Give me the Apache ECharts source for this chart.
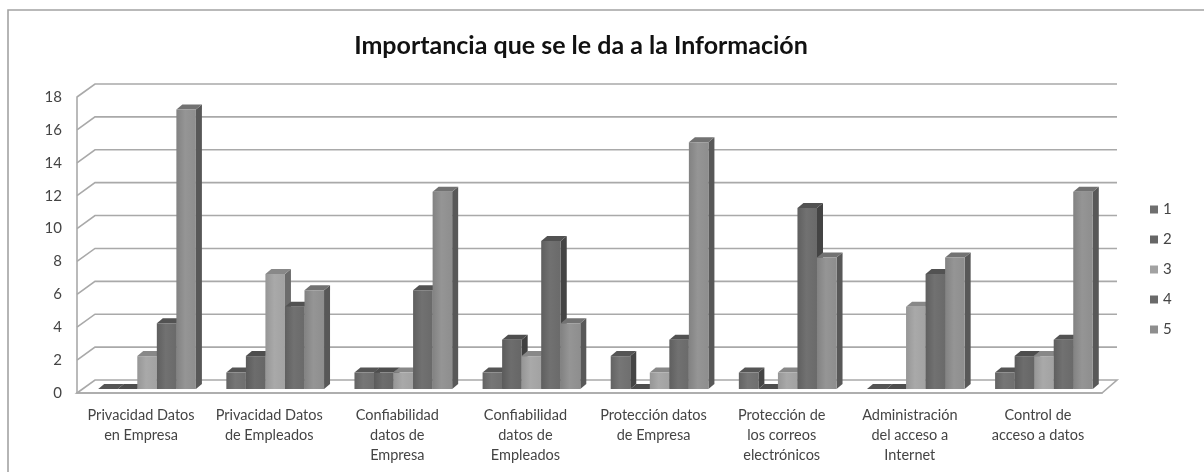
<!DOCTYPE html>
<html>
<head>
<meta charset="utf-8">
<title>Importancia que se le da a la Información</title>
<script src="https://cdn.jsdelivr.net/npm/echarts@6/dist/echarts.min.js"></script>
<style>
    html, body { margin: 0; padding: 0; background: #fff; }
    #chart { width: 1204px; height: 472px; }
</style>
</head>
<body>
<div id="chart"></div>
<script>
const categories = [
    'Privacidad Datos\nen Empresa',
    'Privacidad Datos\nde Empleados',
    'Confiabilidad\ndatos de\nEmpresa',
    'Confiabilidad\ndatos de\nEmpleados',
    'Protección datos\nde Empresa',
    'Protección de\nlos correos\nelectrónicos',
    'Administración\ndel acceso a\nInternet',
    'Control de\nacceso a datos'
];
const seriesNames = ['1', '2', '3', '4', '5'];
const values1 = [0, 1, 1, 1, 2, 1, 0, 1];
const values2 = [0, 2, 1, 3, 0, 0, 0, 2];
const values3 = [2, 7, 1, 2, 1, 1, 5, 2];
const values4 = [4, 5, 6, 9, 3, 11, 7, 3];
const values5 = [17, 6, 12, 4, 15, 8, 8, 12];
const allValues = [values1, values2, values3, values4, values5];
const gridTicks = [0, 2, 4, 6, 8, 10, 12, 14, 16, 18];

const seriesColors = ['#6f6f6f', '#666666', '#a2a2a2', '#6a6a6a', '#8e8e8e'];
const sideColors = ['#454545', '#404040', '#6c6c6c', '#444444', '#585858'];
const topColors = ['#555555', '#4e4e4e', '#888888', '#525252', '#727272'];
const edgeColors = ['#636363', '#5b5b5b', '#969696', '#5f5f5f', '#828282'];
const midColors = ['#767676', '#6d6d6d', '#a9a9a9', '#717171', '#959595'];
const lineColor = '#a9a9a9';
const textColor = '#444444';
const fontName = 'Lato, "Open Sans", sans-serif';

// how far the back wall sits from the front of the floor
const wallDx = 18;
const wallDy = 13;
// the bars stand a little behind the front edge
const barShiftX = 6;
const barShiftY = 4;
const barDepthX = 6;
const barDepthY = 5;
const barShare = 0.1525;

// back wall lines, left wall diagonals and the floor
function renderWall (params, api) {
    const v = api.value(1);
    const y = api.coord([0, v])[1];
    const left = params.coordSys.x;
    const right = left + params.coordSys.width;
    const style = { stroke: lineColor, lineWidth: 1.6, fill: null };
    if (v === 0) {
        return {
            type: 'polygon',
            shape: { points: [[left, y], [left + wallDx, y - wallDy], [right + wallDx - 3, y - wallDy], [right, y]] },
            style: { stroke: lineColor, lineWidth: 1.6, fill: '#ffffff' }
        };
    }
    return {
        type: 'polyline',
        shape: { points: [[left, y], [left + wallDx, y - wallDy], [right + wallDx - 3, y - wallDy]] },
        style: style
    };
}

function makeBarRenderer (index) {
    return function (params, api) {
        const cat = api.value(0);
        const top = api.coord([cat, api.value(1)]);
        const base = api.coord([cat, 0]);
        const w = api.size([1, 0])[0] * barShare;
        const x0 = base[0] + barShiftX + (index - 2.5) * w;
        const x1 = x0 + w;
        const y0 = top[1] - barShiftY;
        const y1 = base[1] - barShiftY;
        const front = new echarts.graphic.LinearGradient(0, 0, 1, 0, [
            { offset: 0, color: edgeColors[index] },
            { offset: 0.45, color: midColors[index] },
            { offset: 1, color: seriesColors[index] }
        ]);
        return {
            type: 'group',
            children: [
                {
                    type: 'polygon',
                    shape: { points: [[x1, y0], [x1 + barDepthX, y0 - barDepthY], [x1 + barDepthX, y1 - barDepthY], [x1, y1]] },
                    style: { fill: sideColors[index] }
                },
                {
                    type: 'polygon',
                    shape: { points: [[x0, y0], [x0 + barDepthX, y0 - barDepthY], [x1 + barDepthX, y0 - barDepthY], [x1, y0]] },
                    style: { fill: topColors[index] }
                },
                {
                    type: 'rect',
                    shape: { x: x0, y: y0, width: w, height: y1 - y0 },
                    style: { fill: front }
                }
            ]
        };
    };
}

const barSeries = allValues.map(function (vals, i) {
    return {
        name: seriesNames[i],
        type: 'custom',
        renderItem: makeBarRenderer(i),
        encode: { x: 0, y: 1 },
        itemStyle: { color: seriesColors[i] },
        z: 3 + i,
        data: vals.map(function (v, c) { return [c, v]; })
    };
});

const chart = echarts.init(document.getElementById('chart'));
chart.setOption({
    animation: false,
    backgroundColor: '#ffffff',
    title: {
        text: 'Importancia que se le da a la Información',
        left: 576,
        top: 28,
        textAlign: 'center',
        textStyle: { fontFamily: fontName, fontSize: 25, fontWeight: 'bold', color: '#111111' }
    },
    grid: { left: 77, right: 102, top: 97, bottom: 79 },
    xAxis: {
        type: 'category',
        data: categories,
        axisTick: { show: false },
        axisLine: { lineStyle: { color: lineColor, width: 1.6 } },
        axisLabel: { interval: 0, margin: 12, lineHeight: 20, fontSize: 14.5, fontFamily: fontName, color: textColor },
        z: 2
    },
    yAxis: {
        type: 'value',
        min: 0,
        max: 18,
        interval: 2,
        splitLine: { show: false },
        axisTick: { show: false },
        axisLine: { show: true, lineStyle: { color: lineColor, width: 1.6 } },
        axisLabel: { margin: 15, fontSize: 15, fontFamily: fontName, color: textColor },
        z: 2
    },
    legend: {
        data: seriesNames,
        orient: 'vertical',
        left: 1145,
        top: 197,
        itemWidth: 8,
        itemHeight: 8,
        itemGap: 15,
        icon: 'rect',
        textStyle: { fontSize: 15, fontFamily: fontName, color: textColor }
    },
    graphic: [{
        type: 'polyline',
        silent: true,
        shape: { points: [[8, 472], [8, 10], [1204, 10]] },
        style: { stroke: '#a3a3a3', lineWidth: 1.6, fill: null }
    }],
    series: [{
        name: 'pared',
        type: 'custom',
        silent: true,
        renderItem: renderWall,
        encode: { x: 0, y: 1 },
        z: 1,
        data: gridTicks.map(function (v) { return [0, v]; })
    }].concat(barSeries)
});
</script>
</body>
</html>
